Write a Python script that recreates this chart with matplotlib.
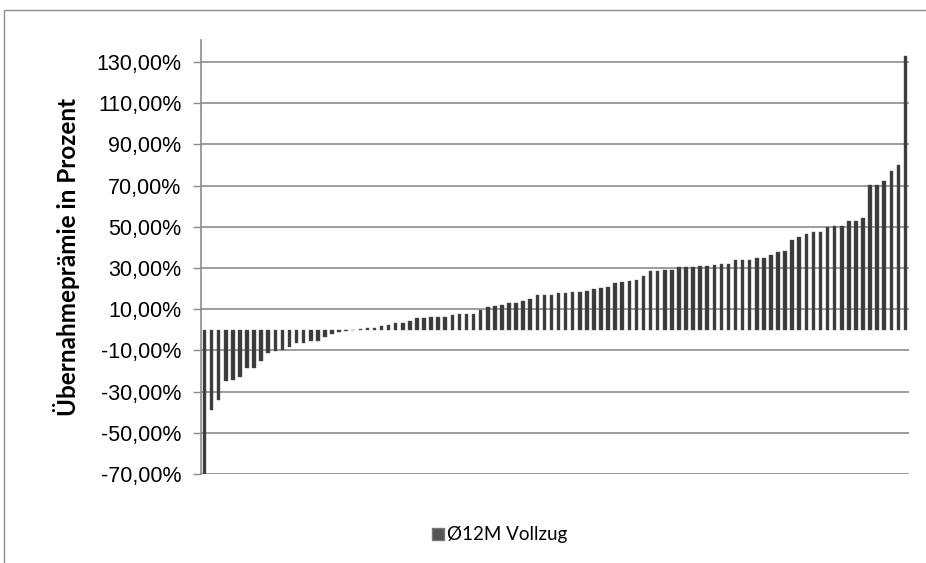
import matplotlib.pyplot as plt
from matplotlib.patches import Rectangle
from matplotlib.ticker import FuncFormatter

# Übernahmeprämien, aufsteigend sortiert (in %)
praemie = [
    -70, -39, -34, -25, -24.2, -22.9, -18.5, -18.5, -15, -11.3, -10.2, -9.7,
    -8.4, -6.5, -6.5, -5.3, -5.2,
    -3.5, -2, -1, -0.5, -0.2, 0.2, 0.8, 0.8, 1.9, 2.4, 3.4, 3.4, 4.4, 5.6,
    5.8, 6.0,
    6.2, 6.2, 7.1, 7.6, 7.6, 7.6, 9.8, 11.0, 11.4, 11.9, 12.9, 12.9, 13.8,
    15.2, 16.7, 16.7, 17.1,
    17.7, 17.7, 18.2, 18.2, 18.7, 19.7, 20.2, 20.6, 22.6, 23.1, 23.5, 24.0,
    26.0, 28.4, 28.4, 28.9, 28.9,
    30.3, 30.3, 30.3, 30.8, 30.8, 31.3, 31.8, 31.8, 33.7, 33.7, 33.7, 34.7,
    34.7, 36.1, 37.6, 38.5,
    43.4, 45.3, 46.3, 47.3, 47.7, 49.7, 50.2, 50.2, 52.6, 52.6, 54.5, 70.5,
    70.5, 72.4, 77.3, 80.2, 132.9,
]
y_ticks = [-70, -50, -30, -10, 10, 30, 50, 70, 90, 110, 130]
serie_name = "Ø12M Vollzug"

fig = plt.figure(figsize=(9.26, 5.63), dpi=100)
ax = fig.add_axes([201 / 926, 1 - 474 / 563, 708 / 926, 434 / 563])

x = list(range(len(praemie)))
ax.bar(x, praemie, width=0.5, color="#3a3a3a", edgecolor="#555555",
       linewidth=0.3, zorder=3)

ax.set_xlim(-0.5, len(praemie) - 0.5)
ax.set_ylim(-70, 140.7)
ax.set_yticks(y_ticks)
ax.yaxis.set_major_formatter(
    FuncFormatter(lambda v, p: f"{v:.2f}".replace(".", ",") + "%"))
ax.set_xticks([])
ax.yaxis.grid(True, color="#8c8c8c", linewidth=1.2, zorder=0)
ax.tick_params(axis="y", length=6, width=1.0, color="#8c8c8c",
               labelsize=15.5, pad=8)
for lab in ax.get_yticklabels():
    lab.set_fontfamily("Liberation Sans")

for s in ["top", "right", "bottom"]:
    ax.spines[s].set_visible(False)
ax.spines["left"].set_color("#8c8c8c")
ax.spines["left"].set_linewidth(1.2)

ax.set_ylabel("Übernahmeprämie in Prozent", fontsize=17.5, fontweight="bold",
              fontfamily="Lato", labelpad=12)

# Legende
handle = Rectangle((0, 0), 1, 1, facecolor="#555555", edgecolor="#777777")
fig.legend([handle], [serie_name], loc="center", bbox_to_anchor=(0.54, 0.05),
           frameon=False, prop={"family": "Lato", "size": 13.5},
           handlelength=0.6, handleheight=0.6, handletextpad=0.2)

# Rahmen des Diagramms
fig.patches.append(Rectangle((4 / 926, -0.1), 1.2, 1 - 10 / 563 + 0.1,
                             transform=fig.transFigure, fill=False,
                             edgecolor="#8c8c8c", linewidth=1.0))

fig.savefig("out.png", dpi=100)
